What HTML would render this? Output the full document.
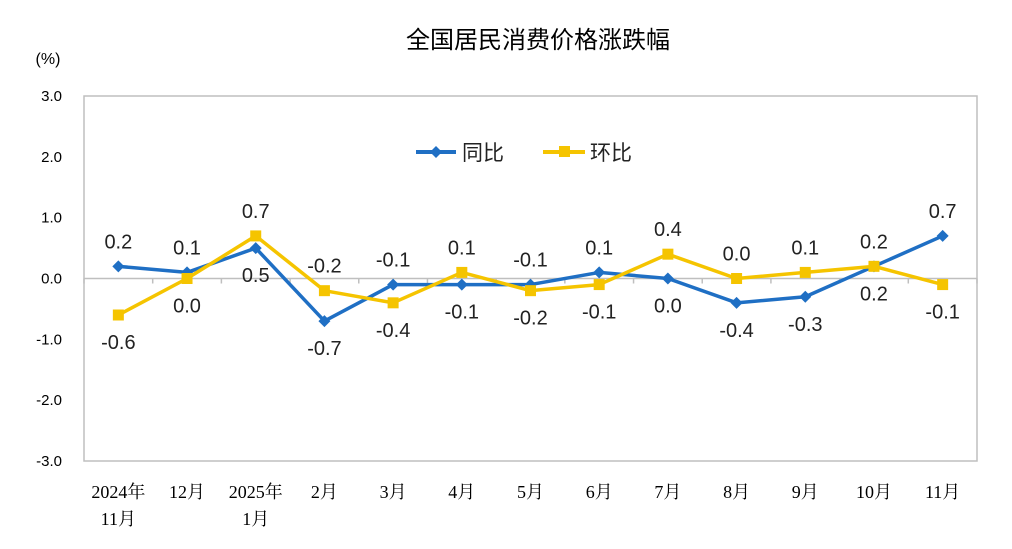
<!DOCTYPE html>
<html><head><meta charset="utf-8"><style>
body{margin:0;background:#fff;}
svg text{font-family:"Liberation Sans","Noto Sans CJK SC",sans-serif;}
svg text.serif{font-family:"Liberation Serif","Noto Serif CJK SC",serif;}
</style></head><body>
<svg id="chart" width="1012" height="544" viewBox="0 0 1012 544" xmlns="http://www.w3.org/2000/svg">
<text x="538" y="48" font-size="24" text-anchor="middle" fill="#000">全国居民消费价格涨跌幅</text>
<text x="48" y="64" font-size="16" text-anchor="middle" fill="#000">(%)</text>
<rect x="84" y="96" width="893" height="365" fill="none" stroke="#bfbfbf" stroke-width="1.5"/>
<g>
<line x1="416" y1="152" x2="456" y2="152" stroke="#1f6fc4" stroke-width="4"/>
<path d="M436 146 L442 152 L436 158 L430 152 Z" fill="#1f6fc4"/>
<text x="462" y="160" font-size="21" fill="#222">同比</text>
<line x1="543" y1="152" x2="585" y2="152" stroke="#f5c400" stroke-width="4"/>
<rect x="559" y="146" width="11" height="11" fill="#f5c400"/>
<text x="590" y="160" font-size="21" fill="#222">环比</text>
</g>
<g id="axes"></g>
<g id="series"></g>
</svg>
<script>
const categories1 = ["2024年","12月","2025年","2月","3月","4月","5月","6月","7月","8月","9月","10月","11月"];
const categories2 = ["11月","","1月","","","","","","","","","",""];
const yoy = [0.2,0.1,0.5,-0.7,-0.1,-0.1,-0.1,0.1,0.0,-0.4,-0.3,0.2,0.7];
const mom = [-0.6,0.0,0.7,-0.2,-0.4,0.1,-0.2,-0.1,0.4,0.0,0.1,0.2,-0.1];
const yoyLabelPos = [-1,-1,1,1,-1,1,-1,-1,1,1,1,1,-1];
const momLabelPos = [1,1,-1,-1,1,-1,1,1,-1,-1,-1,-1,1];
const yTicks = [3,2,1,0,-1,-2,-3];
const NS="http://www.w3.org/2000/svg";
const L=84,R=977,T=96,B=461,ymin=-3,ymax=3;
const band=(R-L)/categories1.length;
const xS=i=>L+band*(i+0.5);
const yS=v=>B-(v-ymin)/(ymax-ymin)*(B-T);
function mk(tag,attrs,parent){const e=document.createElementNS(NS,tag);for(const k in attrs)e.setAttribute(k,attrs[k]);parent.appendChild(e);return e;}
const ax=document.getElementById('axes');
const zl=mk('line',{x1:L,x2:R,y1:yS(0),y2:yS(0),stroke:'#bfbfbf','stroke-width':1.5},ax);


for(let i=0;i<=categories1.length;i++){
 const t=mk('line',{x1:L+band*i,x2:L+band*i,y1:yS(0),y2:yS(0)+5,stroke:'#bfbfbf','stroke-width':1.5},ax);
 
 
}
yTicks.forEach(v=>{
 const t=mk('text',{x:62,y:yS(v)+5,'font-size':15,'text-anchor':'end',fill:'#000'},ax);
 t.textContent=v.toFixed(1);
 
 
});
categories1.forEach((c,i)=>{
 const t=mk('text',{x:xS(i),y:498,'font-size':18,'text-anchor':'middle',fill:'#000',class:'serif'},ax);
 t.textContent=c;
 
 
 if(categories2[i]){
  const t2=mk('text',{x:xS(i),y:525,'font-size':18,'text-anchor':'middle',fill:'#000',class:'serif'},ax);
  t2.textContent=categories2[i];
  
  
 }
});
const sg=document.getElementById('series');
function series(vals,pos,color,name,marker){
 const pts=vals.map((v,i)=>xS(i)+','+yS(v)).join(' ');
 const pl=mk('polyline',{points:pts,fill:'none',stroke:color,'stroke-width':3.5,'stroke-linejoin':'round'},sg);
 
 
 vals.forEach((v,i)=>{
  const x=xS(i),y=yS(v);let m;
  if(marker==='d')m=mk('path',{d:`M${x} ${y-6}L${x+6} ${y}L${x} ${y+6}L${x-6} ${y}Z`,fill:color},sg);
  else m=mk('rect',{x:x-5.5,y:y-5.5,width:11,height:11,fill:color},sg);
  
  
  const t=mk('text',{x:x,y:y+pos[i]*26+8,'font-size':20,'text-anchor':'middle',fill:'#222'},sg);
  t.textContent=v.toFixed(1);
  
  
 });
}
series(yoy,yoyLabelPos,'#1f6fc4','yoy','d');
series(mom,momLabelPos,'#f5c400','mom','s');
</script>
</body></html>
